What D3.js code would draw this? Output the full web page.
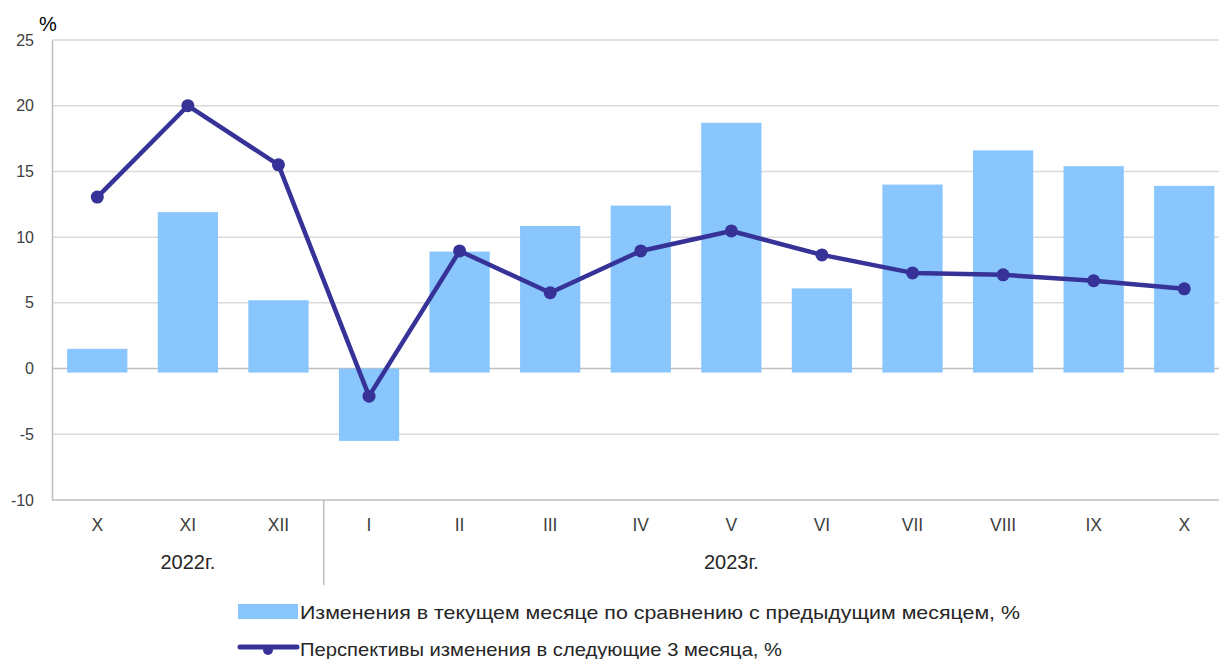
<!DOCTYPE html>
<html>
<head>
<meta charset="utf-8">
<script src="https://cdn.jsdelivr.net/npm/d3@7"></script>
<style>
  body { margin: 0; background: #fff; }
  svg text { font-family: "Liberation Sans", Arial, sans-serif; }
</style>
</head>
<body>
<svg id="chart" width="1219" height="659"></svg>
<script>
// Données
const mois      = ["X", "XI", "XII", "I", "II", "III", "IV", "V", "VI", "VII", "VIII", "IX", "X "];
const annees    = [{ label: "2022г.", centre: "XI" }, { label: "2023г.", centre: "V" }];
const variation = [1.5, 11.9, 5.2, -5.2, 8.9, 10.85, 12.4, 18.7, 6.1, 14.0, 16.6, 15.4, 13.9];
const perspect  = [13.05, 20.0, 15.5, -2.1, 8.95, 5.77, 8.95, 10.47, 8.65, 7.28, 7.13, 6.68, 6.07];
const yTicks    = [-10, -5, 0, 5, 10, 15, 20, 25];
const legendes  = [
    "Изменения в текущем месяце по сравнению с предыдущим месяцем, %",
    "Перспективы изменения в следующие 3 месяца, %"
];

const COUL_BARRE = "#88c6fd";
const COUL_LIGNE = "#363297";

const svg = d3.select("#chart");
const marge = { gauche: 52, haut: 40, bas: 500 };
const largeurPlot = 13 * 90.58;

const x = d3.scaleBand().domain(mois).range([marge.gauche, marge.gauche + largeurPlot])
    .paddingInner(0.335).paddingOuter(0.1675);
const xc = d => x(d) + x.bandwidth() / 2;
const y = d3.scaleLinear().domain([-10, 25]).range([marge.bas, marge.haut]);

// Flou léger des barres
const defs = svg.append("defs");
defs.append("filter").attr("id", "flou").append("feGaussianBlur").attr("stdDeviation", 0.6);

// Grille
svg.append("g").selectAll("line").data(yTicks.filter(t => t !== -10)).join("line")
    .attr("x1", marge.gauche).attr("x2", marge.gauche + largeurPlot)
    .attr("y1", d => y(d)).attr("y2", d => y(d))
    .attr("stroke", d => d === 0 ? "#bfbfbf" : "#d9d9d9").attr("stroke-width", 1.5);

// Axe Y (tiret simple comme dans l'original)
const axeY = svg.append("g").attr("transform", `translate(${marge.gauche},0)`)
    .call(d3.axisLeft(y).tickValues(yTicks).tickSize(0).tickPadding(18).tickFormat(d => String(d)));
axeY.select(".domain").attr("stroke", "#bfbfbf").attr("stroke-width", 1.5);
axeY.selectAll("text").attr("font-size", 16).attr("fill", "#404040")
    .attr("font-family", "Liberation Sans, Arial, sans-serif");
svg.append("text").attr("x", 39).attr("y", 31).attr("font-size", 20).attr("fill", "#000").text("%");

// Axe X
svg.append("line").attr("x1", marge.gauche).attr("x2", marge.gauche + largeurPlot)
    .attr("y1", y(-10)).attr("y2", y(-10)).attr("stroke", "#bfbfbf").attr("stroke-width", 1.5);
svg.append("g").selectAll("text").data(mois).join("text")
    .attr("x", d => xc(d)).attr("y", 531).attr("text-anchor", "middle").attr("font-size", 17.5)
    .attr("fill", "#404040")
    .text(d => d.trim());

// Séparateur des années
const sep = x(mois[3]) - x.step() * x.paddingInner() / 2;
svg.append("line").attr("x1", sep).attr("x2", sep).attr("y1", y(-10)).attr("y2", 585)
    .attr("stroke", "#bfbfbf").attr("stroke-width", 1.5);
svg.append("g").selectAll("text").data(annees).join("text")
    .attr("x", d => xc(d.centre))
    .attr("y", 569).attr("text-anchor", "middle").attr("font-size", 20).attr("fill", "#262626")
    .text(d => d.label);

// Barres
svg.append("g").attr("filter", "url(#flou)").selectAll("rect").data(variation).join("rect")
    .attr("x", (d, i) => x(mois[i]))
    .attr("width", x.bandwidth())
    .attr("y", d => y(Math.max(d, 0)))
    .attr("height", d => Math.abs(y(d) - y(0)) + 4)
    .attr("fill", COUL_BARRE);

// Ligne
const ligne = d3.line().x((d, i) => xc(mois[i])).y(d => y(d));
svg.append("path").datum(perspect).attr("d", ligne)
    .attr("fill", "none").attr("stroke", COUL_LIGNE).attr("stroke-width", 4.5).attr("stroke-linejoin", "round");
svg.append("g").selectAll("circle").data(perspect).join("circle")
    .attr("cx", (d, i) => xc(mois[i])).attr("cy", d => y(d)).attr("r", 6.5).attr("fill", COUL_LIGNE);

// Légende
const leg = svg.append("g");
leg.append("rect").attr("x", 238).attr("y", 604).attr("width", 60).attr("height", 15)
    .attr("fill", COUL_BARRE).attr("filter", "url(#flou)");
leg.append("text").attr("x", 300).attr("y", 619).attr("font-size", 19).attr("fill", "#262626")
    .attr("textLength", 720).attr("lengthAdjust", "spacingAndGlyphs").text(legendes[0]);
leg.append("line").attr("x1", 240).attr("x2", 297).attr("y1", 647).attr("y2", 647)
    .attr("stroke", COUL_LIGNE).attr("stroke-width", 5).attr("stroke-linecap", "round");
leg.append("circle").attr("cx", 268).attr("cy", 650).attr("r", 5).attr("fill", COUL_LIGNE);
leg.append("text").attr("x", 300).attr("y", 656).attr("font-size", 19).attr("fill", "#262626")
    .attr("textLength", 482).attr("lengthAdjust", "spacingAndGlyphs").text(legendes[1]);
</script>
</body>
</html>
